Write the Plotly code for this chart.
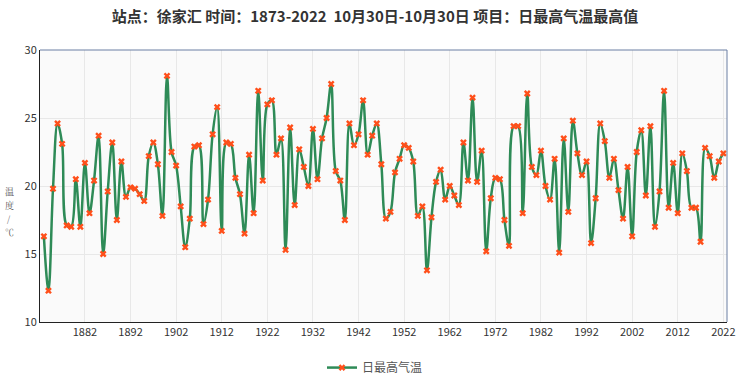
import plotly.graph_objects as go

years = list(range(1873, 2023))
tmax = [
    16.3, 12.3, 19.8, 24.6, 23.1, 17.1, 17.0, 20.5, 17.0, 21.7,
    18.0, 20.4, 23.7, 15.0, 19.6, 23.2, 17.5, 21.8, 19.2, 19.9,
    19.8, 19.4, 18.9, 22.2, 23.2, 21.6, 17.8, 28.1, 22.5, 21.5,
    18.5, 15.5, 17.6, 22.9, 23.0, 17.2, 19.0, 23.8, 25.8, 16.7,
    23.2, 23.1, 20.6, 19.4, 16.5, 22.3, 18.0, 27.0, 20.4, 26.0,
    26.3, 22.3, 23.5, 15.3, 24.3, 18.6, 22.7, 21.4, 20.0, 24.2,
    20.5, 23.5, 25.0, 27.5, 21.1, 20.4, 17.5, 24.6, 23.0, 23.8,
    26.3, 22.3, 23.7, 24.6, 21.6, 17.6, 18.1, 21.0, 22.0, 23.0,
    22.8, 21.8, 17.8, 18.5, 13.8, 17.7, 20.3, 21.2, 19.0, 20.0,
    19.3, 18.6, 23.2, 20.4, 26.5, 20.3, 22.6, 15.2, 19.1, 20.6,
    20.5, 17.5, 15.6, 24.4, 24.4, 18.0, 26.8, 21.4, 20.8, 22.6,
    20.0, 19.0, 22.0, 15.1, 23.5, 18.1, 24.8, 22.4, 20.8, 21.8,
    15.8, 19.1, 24.6, 23.3, 20.6, 22.0, 19.7, 17.6, 21.4, 16.3,
    22.5, 24.1, 19.3, 24.4, 17.0, 19.6, 27.0, 18.4, 21.7, 18.0,
    22.4, 21.1, 18.4, 18.4, 15.9, 22.8, 22.2, 20.6, 21.8, 22.4,
]
x_ticks = list(range(1882, 2023, 10))
y_ticks = [10, 15, 20, 25, 30]

title_text = "站点：徐家汇 时间：1873-2022  10月30日-10月30日 项目：日最高气温最高值"
series_name = "日最高气温"
y_label_chars = ["温", "度", "/", "℃"]

font_family = "Noto Sans CJK SC, Noto Sans, sans-serif"

fig = go.Figure()
fig.add_trace(go.Scatter(
    x=years, y=tmax, name=series_name, mode="lines+markers",
    line=dict(color="#2e8b57", width=2.5, shape="spline", smoothing=1.0),
    marker=dict(symbol="x", size=6, color="#ff4f1a", line=dict(width=0)),
))

fig.update_layout(
    width=750, height=377,
    margin=dict(l=40, r=23, t=50, b=55),
    paper_bgcolor="white",
    plot_bgcolor="#fafafa",
    font=dict(family=font_family, size=11, color="#333333"),
    title=dict(text="<b>" + title_text + "</b>", x=0.5, xanchor="center",
               y=0.955, yanchor="middle",
               font=dict(size=15, color="#333333", family=font_family)),
    showlegend=True,
    legend=dict(orientation="h", x=0.5, xanchor="center", xref="container",
                y=0.025, yanchor="middle", yref="container",
                font=dict(size=12, color="#555555"), bgcolor="rgba(0,0,0,0)"),
    xaxis=dict(range=[1872.15, 2022.8], tickvals=x_ticks, ticktext=[str(v) for v in x_ticks],
               showgrid=True, gridcolor="#e8e8e8", gridwidth=1,
               showline=True, linecolor="#222222", linewidth=1, mirror=False,
               ticks="", zeroline=False, automargin=False,
               tickfont=dict(size=11, color="#333333")),
    yaxis=dict(range=[10, 30], tickvals=y_ticks, showgrid=True, gridcolor="#e8e8e8",
               showline=True, linecolor="#222222", linewidth=1,
               ticks="", zeroline=False, automargin=False,
               tickfont=dict(size=11, color="#333333")),
)
# top and right frame
fig.add_shape(type="line", xref="paper", yref="paper", x0=0, x1=1, y0=1, y1=1,
              line=dict(color="#6b7fa3", width=1))
fig.add_shape(type="line", xref="paper", yref="paper", x0=1, x1=1, y0=0, y1=1,
              line=dict(color="#6b7fa3", width=1))

label_y = [0.48, 0.43, 0.38, 0.33]
for ch, yy in zip(y_label_chars, label_y):
    fig.add_annotation(text=ch, xref="paper", yref="paper",
                       x=-0.045, y=yy, xanchor="center", yanchor="middle", showarrow=False,
                       borderpad=0,
                       font=dict(size=9, color="#555555",
                                 family="Noto Serif CJK SC, Noto Sans CJK SC, serif"))

fig.write_html("out.html", config={"displayModeBar": False},
               post_script="document.body.style.margin='0';")
